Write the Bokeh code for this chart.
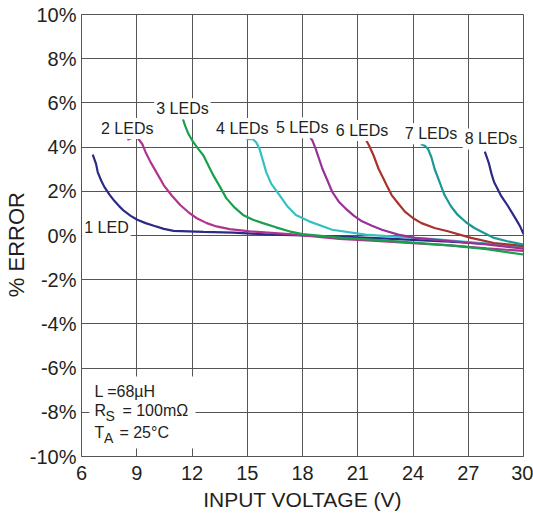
from bokeh.plotting import figure
from bokeh.models import Label, BoxAnnotation, FixedTicker, Range1d
from bokeh.embed import file_html
from bokeh.resources import INLINE

# ---- data ----
v_1led = [6.61, 6.79, 6.88, 7.06, 7.24, 7.51, 7.78, 8.04, 8.31, 8.67, 9.03, 9.48, 9.93, 10.47, 11.0, 12.62, 14.23,
          16.0, 18.0, 20.0, 22.0, 24.0, 26.0, 28.0, 30.0]
e_1led = [3.66, 3.24, 2.87, 2.50, 2.20, 1.86, 1.57, 1.33, 1.11, 0.89, 0.71, 0.56, 0.44, 0.30, 0.21, 0.16, 0.13,
          0.05, 0.0, -0.05, -0.12, -0.2, -0.28, -0.38, -0.48]

v_2led = [8.49, 8.89, 9.07, 9.30, 9.48, 9.75, 10.11, 10.47, 10.91, 11.36, 11.81, 12.26, 12.80, 13.33, 14.05, 15.13,
          17.64, 20.0, 22.0, 24.0, 26.0, 28.0, 30.0]
e_2led = [4.33, 4.47, 4.39, 4.14, 3.77, 3.32, 2.80, 2.27, 1.80, 1.38, 1.05, 0.78, 0.56, 0.41, 0.29, 0.19,
          0.04, -0.15, -0.25, -0.35, -0.45, -0.58, -0.7]

v_3led = [11.51, 11.63, 11.81, 12.08, 12.35, 12.62, 12.89, 13.16, 13.52, 13.87, 14.32, 14.77, 15.31, 15.85, 16.56,
          17.28, 18.0, 20.15, 22.0, 24.0, 26.0, 28.0, 30.0]
e_3led = [5.26, 4.96, 4.59, 4.21, 3.91, 3.62, 3.17, 2.72, 2.20, 1.68, 1.26, 0.93, 0.71, 0.56, 0.37,
          0.19, 0.06, -0.11, -0.2, -0.32, -0.45, -0.62, -0.86]

v_4led = [14.95, 15.31, 15.49, 15.67, 15.85, 16.03, 16.30, 16.75, 17.19, 17.64, 18.36, 19.61, 21.41,
          23.0, 25.0, 27.0, 28.5, 30.0]
e_4led = [4.36, 4.36, 4.21, 3.91, 3.39, 2.87, 2.35, 1.83, 1.31, 0.93, 0.64, 0.26, 0.04,
          -0.05, -0.15, -0.3, -0.4, -0.55]

v_5led = [18.04, 18.36, 18.54, 18.72, 18.90, 19.08, 19.35, 19.61, 19.97, 20.33, 20.78, 21.23, 21.77, 22.31,
          23.20, 24.10, 26.0, 28.0, 30.0]
e_5led = [4.54, 4.51, 4.29, 3.91, 3.47, 3.02, 2.50, 1.98, 1.53, 1.23, 0.90, 0.64, 0.44, 0.26,
          0.04, -0.11, -0.25, -0.4, -0.6]

v_6led = [21.41, 21.62, 21.86, 22.13, 22.31, 22.57, 22.84, 23.20, 23.56, 24.01, 24.46, 25.17, 25.89, 27.15,
          28.40, 30.0]
e_6led = [4.39, 4.06, 3.62, 3.02, 2.72, 2.27, 1.83, 1.45, 1.08, 0.78, 0.56, 0.34, 0.19, -0.11,
          -0.34, -0.48]

v_7led = [24.42, 24.64, 24.82, 25.00, 25.17, 25.44, 25.71, 26.07, 26.43, 26.88, 27.33, 27.86, 28.40, 29.12, 30.0]
e_7led = [4.14, 4.06, 3.91, 3.54, 3.02, 2.43, 1.83, 1.31, 0.93, 0.60, 0.34, 0.11, -0.11, -0.26, -0.41]

v_8led = [27.90, 28.01, 28.13, 28.26, 28.40, 28.58, 28.76, 28.94, 29.12, 29.39, 29.66, 29.84, 30.0]
e_8led = [3.79, 3.54, 3.24, 2.80, 2.42, 2.13, 1.83, 1.60, 1.38, 1.01, 0.64, 0.37, 0.07]

series_names = ["1 LED", "2 LEDs", "3 LEDs", "4 LEDs", "5 LEDs", "6 LEDs", "7 LEDs", "8 LEDs"]
series_v = [v_1led, v_2led, v_3led, v_4led, v_5led, v_6led, v_7led, v_8led]
series_e = [e_1led, e_2led, e_3led, e_4led, e_5led, e_6led, e_7led, e_8led]
series_colors = ["#2B2A87", "#B0348F", "#18A04A", "#35C0C2", "#9A3199", "#A8332C", "#1A9893", "#2B2A87"]

# label anchor (left edge, vertical middle) in data units
label_v = [6.04, 6.95, 9.95, 13.2, 16.45, 19.7, 23.45, 26.7]
label_e = [0.36, 4.84, 5.74, 4.84, 4.88, 4.75, 4.6, 4.37]

x_ticks = [6, 9, 12, 15, 18, 21, 24, 27, 30]
y_ticks = [-10, -8, -6, -4, -2, 0, 2, 4, 6, 8, 10]
y_tick_labels = [f"{t}%" for t in y_ticks]

FONT = "Liberation Sans"
GRID = "#555555"
TXT = "#231f20"

p = figure(width=533, height=513, output_backend="svg", toolbar_location=None,
           x_range=Range1d(6, 30), y_range=Range1d(-10, 10),
           min_border_left=77, min_border_right=10, min_border_top=14, min_border_bottom=52)
p.background_fill_color = "white"
p.border_fill_color = "white"
p.outline_line_color = GRID
p.outline_line_width = 1

p.xaxis.ticker = FixedTicker(ticks=x_ticks)
p.yaxis.ticker = FixedTicker(ticks=y_ticks)
p.xgrid.ticker = FixedTicker(ticks=x_ticks)
p.ygrid.ticker = FixedTicker(ticks=y_ticks)
p.yaxis.major_label_overrides = {t: s for t, s in zip(y_ticks, y_tick_labels)}
p.grid.grid_line_color = GRID
p.grid.grid_line_width = 1

for ax in (p.xaxis, p.yaxis):
    ax.axis_line_color = GRID
    ax.major_tick_in = 0
    ax.major_tick_out = 0
    ax.minor_tick_line_color = None
    ax.major_label_text_font = FONT
    ax.major_label_text_font_size = "20px"
    ax.major_label_text_color = TXT
    ax.axis_label_text_font = FONT
    ax.axis_label_text_font_style = "normal"
    ax.axis_label_text_color = TXT

p.xaxis.axis_label = "INPUT VOLTAGE (V)"
p.yaxis.axis_label = "% ERROR\u00a0\u00a0\u00a0"
p.xaxis.axis_label_text_font_size = "21px"
p.yaxis.axis_label_text_font_size = "22px"
p.xaxis.major_label_standoff = 9
p.xaxis.axis_label_standoff = 5
p.yaxis.major_label_standoff = 5
p.yaxis.axis_label_standoff = -2

for v, e, c in zip(series_v, series_e, series_colors):
    p.line(v, e, line_color=c, line_width=2.2)

for name, lv, le in zip(series_names, label_v, label_e):
    p.add_layout(Label(x=lv, y=le, text=name, text_font=FONT, text_font_size="16px",
                       text_color=TXT, text_align="left", text_baseline="middle",
                       background_fill_color="white", padding=2))

# conditions box
p.add_layout(BoxAnnotation(left=6.43, right=12.19, top=-6.38, bottom=-9.64,
                           fill_color="white", fill_alpha=1.0, line_color=None))

cond_x = 6.7
def add_text(x, y, text, size="16px", xoff=0, yoff=0):
    p.add_layout(Label(x=x, y=y, x_offset=xoff, y_offset=yoff, text=text, text_font=FONT,
                       text_font_size=size, text_color=TXT, text_align="left",
                       text_baseline="middle"))

add_text(cond_x, -7.05, "L =68\u00b5H")
add_text(cond_x, -7.94, "R")
add_text(cond_x, -7.94, "S", size="14px", xoff=11, yoff=-5)
add_text(cond_x, -7.94, "= 100m\u03a9", xoff=28)
add_text(cond_x, -8.93, "T")
add_text(cond_x, -8.93, "A", size="14px", xoff=9.5, yoff=-5)
add_text(cond_x, -8.93, "= 25\u00b0C", xoff=25)

open("out.html", "w").write(file_html(p, INLINE))
